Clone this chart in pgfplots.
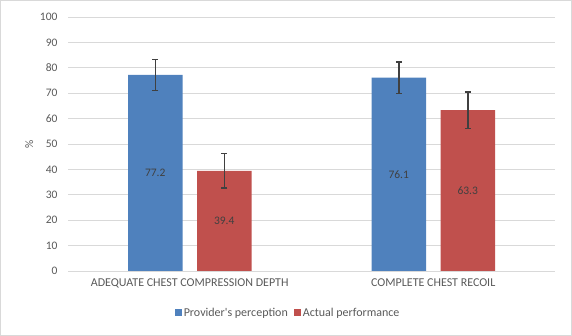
\documentclass[border=0pt]{standalone}
\usepackage{pgfplots}
\pgfplotsset{compat=1.18}
\usepackage{fontspec}
\setmainfont{Carlito}[Ligatures=TeXOff]
\definecolor{barblue}{HTML}{4F81BD}
\definecolor{barred}{HTML}{C0504D}
\definecolor{txtgray}{HTML}{595959}
\definecolor{gridgray}{HTML}{D9D9D9}
\definecolor{errgray}{HTML}{404040}
\definecolor{lblgray}{HTML}{404040}
\begin{document}
\begin{tikzpicture}
\draw[gridgray, line width=0.8bp] (0.4bp,0.4bp) rectangle (571.6bp,335.6bp);
\begin{axis}[
  at={(68bp,65bp)}, anchor=south west,
  scale only axis, width=487bp, height=254bp,
  xmin=-0.5, xmax=1.5, ymin=0, ymax=100,
  ytick={0,10,...,100}, xtick={0,1},
  xticklabels={ADEQUATE CHEST COMPRESSION DEPTH, COMPLETE CHEST RECOIL},
  ymajorgrids, grid style={gridgray, line width=0.8bp},
  axis line style={draw=none}, major tick length=0pt,
  /pgf/number format/assume math mode=true,
  tick label style={font=\fontsize{11.5bp}{13bp}\selectfont, text=txtgray},
  xticklabel style={font=\fontsize{12bp}{14bp}\selectfont, yshift=-4bp},
  yticklabel style={xshift=-7bp},
  ylabel={\%}, ylabel style={font=\fontsize{11.5bp}{13bp}\selectfont, text=txtgray, at={(axis description cs:-0.064,0.5)}},
  ybar=14.5bp, bar width=54.5bp,
  nodes near coords,
  visualization depends on={y \as \rawy},
  every node near coord/.append style={anchor=center, yshift={-1.27bp*\rawy}, font=\fontsize{11.5bp}{13bp}\selectfont, text=lblgray,
    /pgf/number format/fixed, /pgf/number format/precision=1, /pgf/number format/fixed zerofill, /pgf/number format/assume math mode=true},
  legend style={at={(axis description cs:0.452,-0.165)}, anchor=center, draw=none, fill=none,
    legend columns=2, font=\fontsize{12bp}{14bp}\selectfont, text=txtgray,
    /tikz/every even column/.append style={column sep=4bp}},
  legend image code/.code={\fill[#1] (0bp,-3.5bp) rectangle (7bp,3.5bp);},
  error bars/y dir=both, error bars/y explicit,
  error bars/error bar style={color=errgray, line width=1.5bp},
  error bars/error mark options={rotate=90, color=errgray, mark size=3bp, line width=1.5bp},
]
\addplot[fill=barblue, draw=none] coordinates {(0,77.2) +- (0,6.1) (1,76.1) +- (0,6.2)};
\addplot[fill=barred, draw=none] coordinates {(0,39.4) +- (0,6.8) (1,63.3) +- (0,7.2)};
\legend{Provider's perception, Actual performance}
\end{axis}
\end{tikzpicture}
\end{document}
